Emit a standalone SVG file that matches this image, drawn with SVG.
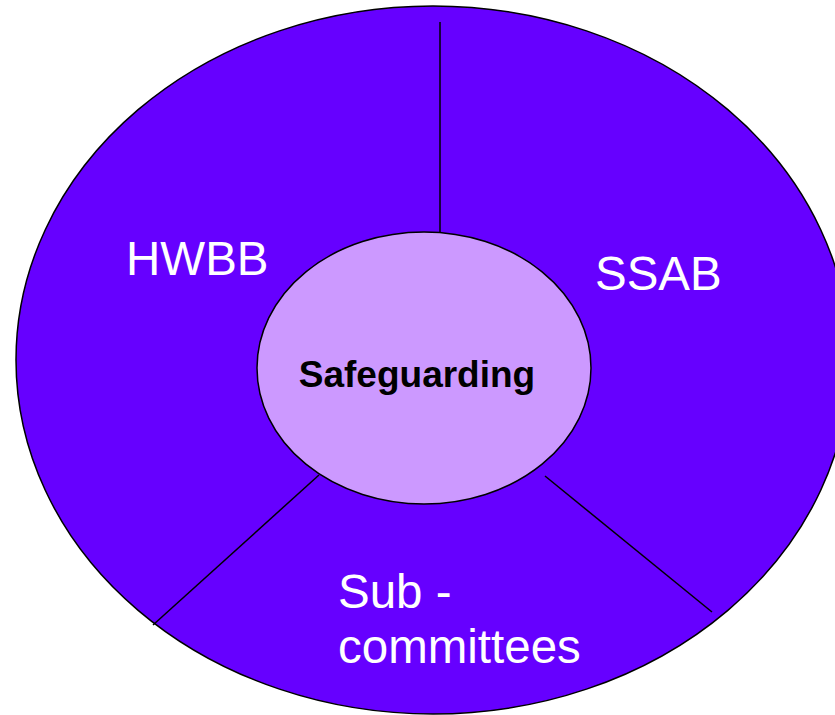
<svg xmlns="http://www.w3.org/2000/svg" width="835" height="715" viewBox="0 0 835 715">
<style>
.outer{fill:#6600FF;stroke:#000;stroke-width:1.5}
.inner{fill:#CC99FF;stroke:#000;stroke-width:1.5}
.div{stroke:#000;stroke-width:1.5;fill:none}
.lbl{font-family:"Liberation Sans",Arial,sans-serif;font-size:47.5px;fill:#fff}
.core{font-family:"Liberation Sans",Arial,sans-serif;font-size:37px;font-weight:bold;fill:#000}
</style>
<rect width="835" height="715" fill="#fff"/>
<g id="outer-ring">
<ellipse class="outer" cx="433" cy="360" rx="417" ry="354"/>
</g>
<g id="connectors">
<line class="div" x1="440" y1="22" x2="440" y2="233"/>
<line class="div" x1="319" y1="475" x2="153" y2="625"/>
<line class="div" x1="545" y1="476" x2="712" y2="612"/>
</g>
<g id="hwbb"><text class="lbl" x="126" y="275">HWBB</text></g>
<g id="ssab"><text class="lbl" x="595" y="290">SSAB</text></g>
<g id="subcommittees"><text class="lbl" x="338" y="608">Sub -</text><text class="lbl" x="338" y="663">committees</text></g>
<g id="safeguarding">
<ellipse class="inner" cx="424" cy="368" rx="167" ry="136"/>
<text class="core" x="417" y="387" text-anchor="middle">Safeguarding</text>
</g>
</svg>
